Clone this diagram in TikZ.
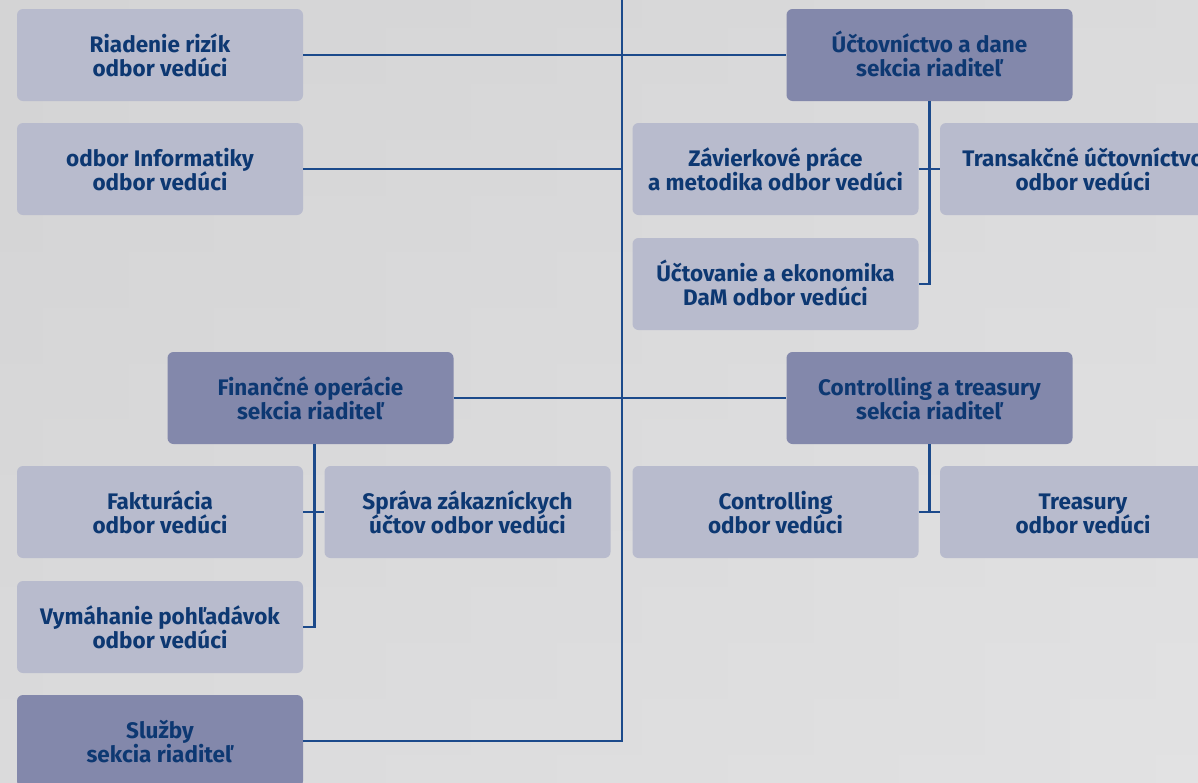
\documentclass[tikz,border=0pt]{standalone}
\usepackage{fontspec}
\setmainfont{Fira Sans}
\definecolor{bgA}{HTML}{D4D4D5}
\definecolor{bgB}{HTML}{E2E2E3}
\definecolor{lightbox}{HTML}{B8BBCD}
\definecolor{darkbox}{HTML}{8388AB}
\definecolor{txt}{HTML}{0D3872}
\definecolor{conn}{HTML}{1C4A8B}
\newcommand\twoline[2]{\rule{0pt}{25pt}#1\\#2\rule[-6.5pt]{0pt}{0pt}}
\tikzset{
  unit/.style={rounded corners=6pt, minimum width=286pt, minimum height=92pt,
    inner sep=2pt, align=center, text=txt, font=\fontsize{22.5}{24.5}\selectfont\bfseries},
  odbor/.style={unit, fill=lightbox},
  sekcia/.style={unit, fill=darkbox},
  link/.style={draw=conn, line width=2.2pt}
}
\begin{document}
\begin{tikzpicture}[x=1pt,y=-1pt]
\useasboundingbox (0,0) rectangle (1198,782);
\clip (0,0) rectangle (1198,782);
\shade[top color=bgA, bottom color=bgB] (0,0) rectangle (1198,782);
\shade[left color=bgA, right color=bgB, opacity=0.5] (0,0) rectangle (1198,782);

\coordinate (top) at (622,0);

\node[odbor]  (risk)   at (160,55)    {\twoline{Riadenie rizík}{odbor vedúci}};
\node[odbor]  (info)   at (160,169)   {\twoline{odbor Informatiky}{odbor vedúci}};
\node[sekcia] (uct)    at (929.5,55)  {\twoline{Účtovníctvo a dane}{sekcia riaditeľ}};
\node[odbor]  (zav)    at (775.5,169) {\twoline{Závierkové práce}{a metodika odbor vedúci}};
\node[odbor]  (tran)   at (1083,169)  {\twoline{Transakčné účtovníctvo}{odbor vedúci}};
\node[odbor]  (uctov)  at (775.5,284) {\twoline{Účtovanie a ekonomika}{DaM odbor vedúci}};
\node[sekcia] (fin)    at (310.5,398) {\twoline{Finančné operácie}{sekcia riaditeľ}};
\node[sekcia] (ctrl)   at (929.5,398) {\twoline{Controlling a treasury}{sekcia riaditeľ}};
\node[odbor]  (fak)    at (160,512)   {\twoline{Fakturácia}{odbor vedúci}};
\node[odbor]  (sprava) at (467.5,512) {\twoline{Správa zákazníckych}{účtov odbor vedúci}};
\node[odbor]  (ctl)    at (775.5,512) {\twoline{Controlling}{odbor vedúci}};
\node[odbor]  (tre)    at (1083,512)  {\twoline{Treasury}{odbor vedúci}};
\node[odbor]  (vym)    at (160,627)   {\twoline{Vymáhanie pohľadávok}{odbor vedúci}};
\node[sekcia] (slu)    at (160,741)   {\twoline{Služby}{sekcia riaditeľ}};

\draw[link] (slu.east) -| (top);
\draw[link] (risk.east) -- (uct.west);
\draw[link] (info.east) -- (info.east -| top);
\draw[link] (fin.east) -- (ctrl.west);

\draw[link] (uct.south) |- (uctov.east);
\draw[link] (zav.east) -- (tran.west);

\draw[link] ([xshift=4pt]fin.south) |- (vym.east);
\draw[link] (fak.east) -- (sprava.west);

\draw[link] (ctrl.south) -- (ctrl.south |- ctl.east);
\draw[link] (ctl.east) -- (tre.west);
\end{tikzpicture}
\end{document}
